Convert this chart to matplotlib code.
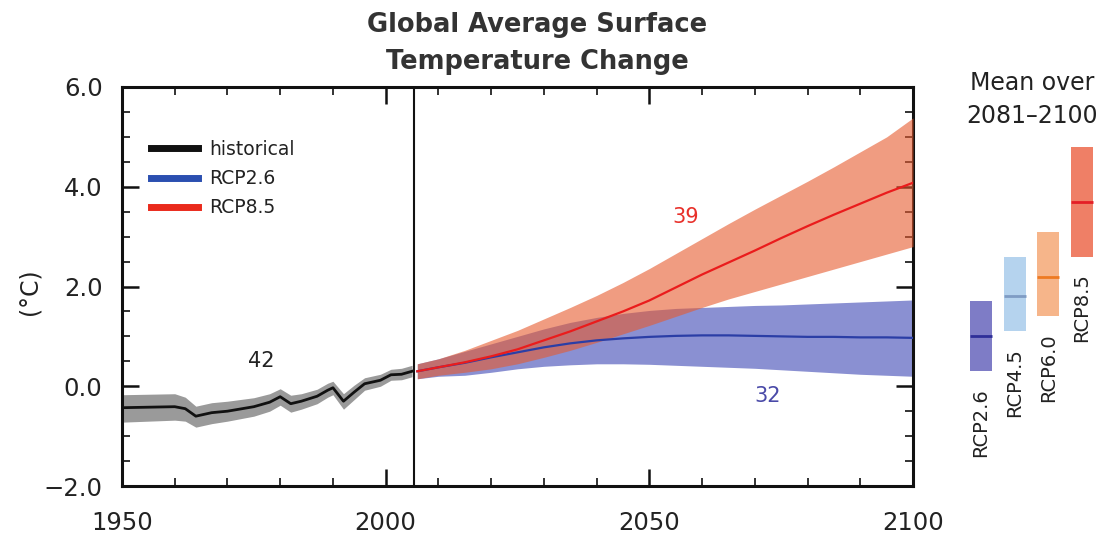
import matplotlib
matplotlib.use("Agg")
import matplotlib.pyplot as plt
from matplotlib.lines import Line2D
from matplotlib.ticker import MultipleLocator, FixedLocator, FixedFormatter

plt.rcParams['font.family'] = ['DejaVu Sans']

# ---------------- data ----------------
hist_years = [1950, 1955, 1960, 1962, 1964, 1967, 1970, 1975, 1978, 1980, 1982,
              1984, 1987, 1989, 1990, 1992, 1994, 1996, 1999, 2001, 2003, 2005]
hist_mean = [-0.43, -0.42, -0.41, -0.45, -0.60, -0.53, -0.50, -0.41, -0.32, -0.21, -0.35,
             -0.30, -0.20, -0.08, -0.03, -0.30, -0.12, 0.05, 0.12, 0.23, 0.24, 0.30]
hist_upper = [-0.17, -0.16, -0.15, -0.22, -0.40, -0.33, -0.30, -0.23, -0.15, -0.05, -0.18,
              -0.15, -0.06, 0.06, 0.10, -0.15, 0.02, 0.17, 0.24, 0.34, 0.36, 0.42]
hist_lower = [-0.72, -0.70, -0.68, -0.70, -0.82, -0.75, -0.70, -0.60, -0.50, -0.38, -0.52,
              -0.46, -0.35, -0.22, -0.17, -0.46, -0.27, -0.08, 0.00, 0.12, 0.13, 0.19]

proj_years = [2006, 2010, 2015, 2020, 2025, 2030, 2035, 2040, 2045, 2050,
              2055, 2060, 2065, 2070, 2075, 2080, 2085, 2090, 2095, 2100]
rcp85_mean = [0.30, 0.38, 0.48, 0.60, 0.74, 0.92, 1.10, 1.30, 1.50, 1.72,
              1.98, 2.24, 2.48, 2.72, 2.97, 3.21, 3.44, 3.66, 3.88, 4.08]
rcp85_upper = [0.45, 0.55, 0.72, 0.92, 1.12, 1.35, 1.58, 1.82, 2.08, 2.36,
               2.66, 2.96, 3.26, 3.55, 3.83, 4.11, 4.40, 4.70, 5.00, 5.38]
rcp85_lower = [0.15, 0.22, 0.28, 0.35, 0.45, 0.58, 0.72, 0.88, 1.05, 1.22,
               1.40, 1.58, 1.75, 1.90, 2.05, 2.20, 2.35, 2.50, 2.65, 2.80]
rcp26_mean = [0.30, 0.38, 0.47, 0.58, 0.68, 0.78, 0.86, 0.92, 0.96, 0.99,
              1.01, 1.02, 1.02, 1.01, 1.00, 0.99, 0.99, 0.98, 0.98, 0.97]
rcp26_upper = [0.45, 0.55, 0.70, 0.85, 1.00, 1.15, 1.28, 1.38, 1.46, 1.52,
               1.56, 1.58, 1.60, 1.62, 1.63, 1.65, 1.67, 1.69, 1.71, 1.73]
rcp26_lower = [0.15, 0.20, 0.22, 0.28, 0.35, 0.40, 0.43, 0.45, 0.45, 0.44,
               0.42, 0.40, 0.38, 0.36, 0.33, 0.30, 0.27, 0.24, 0.22, 0.20]

scenarios = ['RCP2.6', 'RCP4.5', 'RCP6.0', 'RCP8.5']
end_mean = [1.0, 1.8, 2.2, 3.7]
end_low = [0.3, 1.1, 1.4, 2.6]
end_high = [1.7, 2.6, 3.1, 4.8]

model_counts = ['42', '39', '32']

y_ticks = [-2.0, 0.0, 2.0, 4.0, 6.0]
y_ticklabels = ['\u22122.0', '0.0', '2.0', '4.0', '6.0']
x_ticks = [1950, 2000, 2050, 2100]

# ---------------- figure ----------------
W, H = 1108, 535
fig = plt.figure(figsize=(W / 100, H / 100), dpi=100)
fig.patch.set_facecolor('white')

def fx(px):
    return px / W

def fy(py):
    return 1 - py / H

ax = fig.add_axes([fx(122), fy(486), fx(913) - fx(122), fy(87) - fy(486)])

# historical
ax.fill_between(hist_years, hist_lower, hist_upper, color='#9a9a9a', lw=0, zorder=2)
ax.plot(hist_years, hist_mean, color='#111111', lw=2.0, zorder=5)

# projections
ax.fill_between(proj_years, rcp26_lower, rcp26_upper, color='#8a90d2', lw=0, zorder=2)
ax.fill_between(proj_years, rcp85_lower, rcp85_upper, color='#e65a2e', alpha=0.6, lw=0, zorder=3)
ax.plot(proj_years, rcp26_mean, color='#2b3ea6', lw=1.6, zorder=5)
ax.plot(proj_years, rcp85_mean, color='#ea1c1c', lw=1.6, zorder=6)

ax.axvline(2005.3, color='#111111', lw=1.5, zorder=7)

ax.set_xlim(1950, 2100)
ax.set_ylim(-2, 6)

ax.xaxis.set_major_locator(FixedLocator(x_ticks))
ax.xaxis.set_minor_locator(MultipleLocator(10))
ax.yaxis.set_major_locator(FixedLocator(y_ticks))
ax.yaxis.set_major_formatter(FixedFormatter(y_ticklabels))
ax.yaxis.set_minor_locator(MultipleLocator(0.5))
ax.tick_params(which='both', direction='in', top=True, right=True, colors='#111111',
               labelcolor='#222222', labelsize=17.5)
ax.tick_params(which='major', length=12, width=1.8)
ax.tick_params(which='minor', length=6, width=1.2)
ax.tick_params(axis='x', which='major', pad=18)
ax.tick_params(axis='y', which='major', pad=14)
for s in ax.spines.values():
    s.set_linewidth(2.2)
    s.set_color('#111111')

# model counts
ax.text(1976.5, 0.5, model_counts[0], color='#222222', fontsize=15, ha='center', va='center')
ax.text(2056.8, 3.4, model_counts[1], color='#e8302a', fontsize=15, ha='center', va='center')
ax.text(2072.5, -0.2, model_counts[2], color='#4a4aa8', fontsize=15, ha='center', va='center')

# legend
handles = [Line2D([], [], color='#111111', lw=5),
           Line2D([], [], color='#2b4fb0', lw=5),
           Line2D([], [], color='#ea2a1c', lw=5)]
leg = ax.legend(handles, ['historical', 'RCP2.6', 'RCP8.5'], loc='upper left',
                bbox_to_anchor=(0.015, 0.91), frameon=False, fontsize=13.5,
                handlelength=2.5, handletextpad=0.6, labelspacing=0.55)
for t in leg.get_texts():
    t.set_color('#222222')

# title
fig.text(fx(537), fy(25), 'Global Average Surface', ha='center', va='center',
         fontsize=18.5, fontweight='bold', color='#333333')
fig.text(fx(537), fy(62), 'Temperature Change', ha='center', va='center',
         fontsize=18.5, fontweight='bold', color='#333333')

# y label
fig.text(fx(30), fy(292), '(\u00b0C)', rotation=90, ha='center', va='center',
         fontsize=17, color='#222222')

# right panel
ax2 = fig.add_axes([fx(955), fy(486), fx(1105) - fx(955), fy(87) - fy(486)])
ax2.set_xlim(0.228, 4.679)
ax2.set_ylim(-2, 6)
ax2.axis('off')
bar_colors = ['#7e7cc6', '#b5d3ee', '#f6b58a', '#ef7f66']
mean_colors = ['#2e2e98', '#7f9cc4', '#ee7a22', '#e41e26']
xs = [1, 2, 3, 4]
bw = 0.65
for x, lo, hi, m, bc, mc, name in zip(xs, end_low, end_high, end_mean, bar_colors, mean_colors, scenarios):
    ax2.bar(x, hi - lo, bottom=lo, width=bw, color=bc, lw=0)
    ax2.hlines(m, x - bw / 2, x + bw / 2, color=mc, lw=2)
    ax2.annotate(name, (x, lo), xytext=(0, -12), textcoords='offset points',
                 rotation=90, ha='center', va='top', fontsize=14, color='#222222')

fig.text(fx(1032), fy(83), 'Mean over', ha='center', va='center', fontsize=17, color='#222222')
fig.text(fx(1032), fy(116), '2081\u20132100', ha='center', va='center', fontsize=17, color='#222222')

fig.savefig('out.png', dpi=100, facecolor='white')
